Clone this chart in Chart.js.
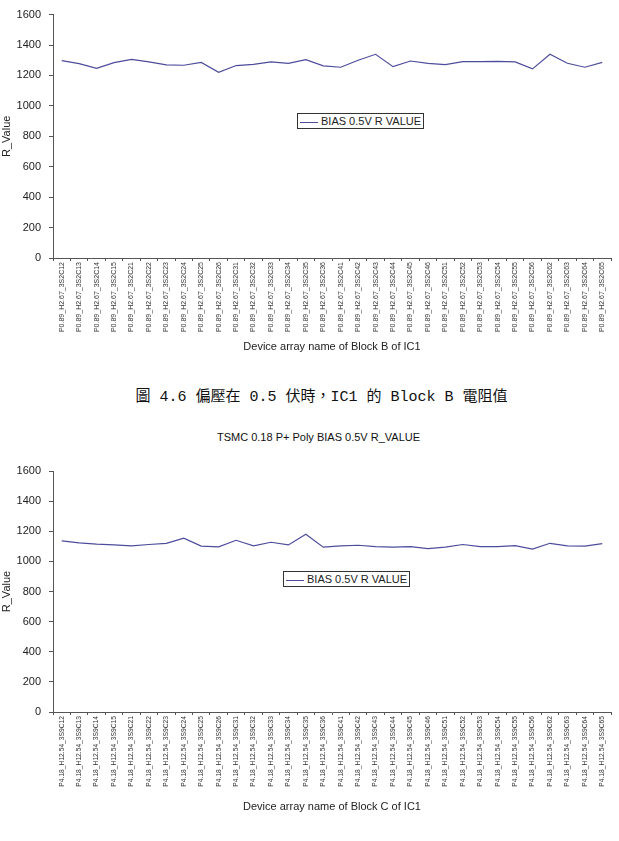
<!DOCTYPE html>
<html>
<head>
<meta charset="utf-8">
<script src="https://cdn.jsdelivr.net/npm/chart.js@4.4.0/dist/chart.umd.min.js"></script>
<style>
  body { margin: 0; background: #fff; width: 619px; height: 841px; position: relative; overflow: hidden; font-family: Arial, "Liberation Sans", sans-serif; }
  canvas { position: absolute; left: 0; }
  .legend { position: absolute; border: 1px solid #333; background: #fff; font-size: 11px; color: #222; height: 14px; line-height: 14px; box-sizing: content-box; white-space: nowrap; }
  .legend span.ln { display: inline-block; width: 18px; height: 0; border-top: 1px solid #4c4c9c; vertical-align: middle; margin: 0 3px 0 2px; }
  .caption { position: absolute; top: 384px; left: 0; width: 643px; text-align: center; font-family: "Liberation Mono", "Noto Sans CJK TC", monospace; font-size: 15px; color: #111; }
  .title2 { position: absolute; top: 431px; left: 0; width: 637px; text-align: center; font-size: 11px; color: #111; }
</style>
</head>
<body>
<canvas id="chartB" width="619" height="360" style="top:0px"></canvas>
<div class="legend" style="left:297px; top:113px; width:125px;"><span class="ln"></span>BIAS 0.5V R VALUE</div>

<div class="caption">圖 4.6 偏壓在 0.5 伏時，IC1 的 Block B 電阻值</div>

<div class="title2">TSMC 0.18 P+ Poly BIAS 0.5V R_VALUE</div>
<canvas id="chartC" width="619" height="370" style="top:450px"></canvas>
<div class="legend" style="left:283px; top:571px; width:125px;"><span class="ln"></span>BIAS 0.5V R VALUE</div>

<script>
// nombres de los arreglos (columnas C12..C65)
const cols = ['C12','C13','C14','C15','C21','C22','C23','C24','C25','C26',
              'C31','C32','C33','C34','C35','C36','C41','C42','C43','C44','C45','C46',
              'C51','C52','C53','C54','C55','C56','C62','C63','C64','C65'];
const labelsB = cols.map(c => 'P0.89_H2.67_3S2' + c);
const labelsC = cols.map(c => 'P4.18_H12.54_3S9' + c);

// R value, Block B
const valuesB = [1297,1278,1247,1284,1306,1289,1269,1267,1286,1221,
                 1265,1273,1289,1280,1304,1263,1254,1300,1339,1258,1295,1280,
                 1271,1291,1291,1293,1289,1243,1339,1280,1254,1286];
// R value, Block C
const valuesC = [1136,1123,1114,1109,1103,1112,1120,1154,1101,1096,
                 1140,1103,1127,1109,1180,1094,1103,1107,1098,1094,1098,1085,
                 1094,1112,1098,1098,1105,1081,1120,1103,1101,1118];

const yTicks = [0,200,400,600,800,1000,1200,1400,1600];

function makeChart(id, labels, values, xTitle, padTop, xHeight, labelSize) {
    const ctx = document.getElementById(id).getContext('2d');
    return new Chart(ctx, {
        type: 'line',
        data: {
            labels: labels,
            datasets: [{
                label: 'BIAS 0.5V R VALUE',
                data: values,
                borderColor: '#4c4c9c',
                borderWidth: 1.2,
                pointRadius: 0,
                tension: 0,
                fill: false
            }]
        },
        options: {
            responsive: false,
            animation: false,
            devicePixelRatio: 1,
            layout: { padding: { top: padTop, right: 8, bottom: 0, left: 0 } },
            plugins: {
                legend: { display: false },
                tooltip: { enabled: false }
            },
            scales: {
                x: {
                    offset: true,
                    grid: { offset: true, drawOnChartArea: false, tickLength: 3, color: '#555' },
                    border: { color: '#555' },
                    ticks: {
                        autoSkip: false, minRotation: 90, maxRotation: 90, padding: 1,
                        font: { family: 'Arial', size: labelSize }, color: '#333'
                    },
                    title: {
                        display: true, text: xTitle, color: '#222',
                        font: { family: 'Arial', size: 11 },
                        padding: { top: 0, bottom: 6 }
                    },
                    afterFit: function (scale) { scale.height = xHeight; }
                },
                y: {
                    min: 0,
                    max: 1600,
                    afterBuildTicks: function (scale) { scale.ticks = yTicks.map(v => ({ value: v })); },
                    grid: { drawOnChartArea: false, tickLength: 4, color: '#555' },
                    border: { color: '#555' },
                    ticks: {
                        padding: 8, font: { family: 'Arial', size: 11 }, color: '#222',
                        callback: function (v) { return String(v); }
                    },
                    title: {
                        display: true, text: 'R_Value', color: '#222',
                        font: { family: 'Arial', size: 11 },
                        padding: { top: 0, bottom: 0 }
                    },
                    afterFit: function (scale) { scale.width = 53; }
                }
            }
        }
    });
}

makeChart('chartB', labelsB, valuesB, 'Device array name of Block B of IC1', 13, 102, 7);
makeChart('chartC', labelsC, valuesC, 'Device array name of Block C of IC1', 21, 108, 6.7);
</script>
</body>
</html>
